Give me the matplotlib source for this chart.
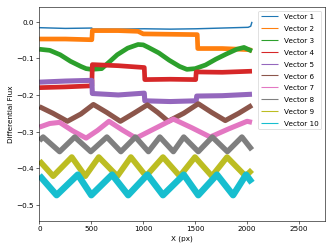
import numpy as np
import matplotlib
matplotlib.use('Agg')
import matplotlib.pyplot as plt

# values (centre of each noisy band)
x1 = [0, 250, 505, 510, 760, 1010, 1260, 1510, 1760, 2010, 2035, 2047]
v1 = [-0.016, -0.018, -0.017, -0.020, -0.020, -0.019, -0.020, -0.019, -0.017, -0.015, -0.012, 0.000]

x2 = [0, 250, 505, 510, 760, 950, 1000, 1260, 1520, 1525, 1760, 2010, 2047]
v2 = [-0.047, -0.047, -0.049, -0.024, -0.024, -0.026, -0.033, -0.034, -0.035, -0.073, -0.073,
      -0.076, -0.078]

x3 = [0, 100, 200, 300, 400, 450, 500, 600, 680, 750, 850, 950, 1000, 1050, 1150, 1250,
      1350, 1420, 1500, 1600, 1700, 1800, 1900, 1970, 2047]
v3 = [-0.075, -0.078, -0.090, -0.108, -0.122, -0.128, -0.130, -0.128, -0.108, -0.090, -0.072,
      -0.062, -0.063, -0.070, -0.085, -0.105, -0.122, -0.130, -0.128, -0.118, -0.102, -0.088,
      -0.075, -0.070, -0.080]

x4 = [0, 250, 505, 510, 760, 1010, 1015, 1260, 1505, 1510, 1760, 2047]
v4 = [-0.180, -0.178, -0.175, -0.117, -0.120, -0.125, -0.158, -0.157, -0.158, -0.137, -0.138, -0.135]

x5 = [0, 250, 505, 510, 760, 1010, 1015, 1260, 1510, 1515, 1760, 2047]
v5 = [-0.165, -0.162, -0.160, -0.196, -0.200, -0.195, -0.216, -0.218, -0.216, -0.203, -0.202, -0.198]

x6 = [0, 130, 270, 400, 520, 650, 780, 910, 1040, 1140, 1240, 1390, 1530, 1660, 1790, 1920, 2047]
v6 = [-0.232, -0.250, -0.272, -0.252, -0.226, -0.248, -0.272, -0.250, -0.227, -0.248, -0.272,
      -0.250, -0.224, -0.248, -0.270, -0.250, -0.228]

x7 = [0, 100, 195, 320, 450, 560, 670, 800, 930, 1110, 1290, 1470, 1645, 1820, 2000, 2047]
v7 = [-0.288, -0.278, -0.275, -0.298, -0.318, -0.297, -0.272, -0.296, -0.318, -0.292, -0.266,
      -0.290, -0.315, -0.293, -0.272, -0.275]

x8 = [0, 36, 195, 340, 495, 650, 785, 925, 1050, 1160, 1290, 1390, 1530, 1665, 1810, 1950, 2047]
v8 = [-0.325, -0.315, -0.355, -0.315, -0.355, -0.315, -0.355, -0.315, -0.355, -0.315, -0.355,
      -0.315, -0.355, -0.315, -0.355, -0.315, -0.350]

x9 = [0, 133, 312, 442, 572, 751, 881, 1027, 1190, 1352, 1498, 1661, 1807, 1986, 2047]
v9 = [-0.380, -0.422, -0.370, -0.422, -0.370, -0.422, -0.370, -0.422, -0.370, -0.422, -0.370,
      -0.422, -0.370, -0.422, -0.405]

x10 = [0, 166, 370, 500, 700, 855, 1040, 1190, 1390, 1530, 1710, 1865, 1990, 2047]
v10 = [-0.420, -0.474, -0.418, -0.474, -0.418, -0.474, -0.418, -0.474, -0.418, -0.474, -0.418,
       -0.474, -0.418, -0.440]

xs = [x1, x2, x3, x4, x5, x6, x7, x8, x9, x10]
vs = [v1, v2, v3, v4, v5, v6, v7, v8, v9, v10]
widths = [2.0, 6.5, 6.5, 6.5, 7, 7, 7, 7.5, 8, 9]

fig, ax = plt.subplots(figsize=(6.4, 4.8), dpi=52)
for i in range(10):
    ax.plot(xs[i], vs[i], lw=widths[i], solid_joinstyle='round',
            solid_capstyle='butt', label='Vector %d' % (i + 1))

ax.set_xlim(0, 2750)
ax.set_ylim(-0.544, 0.040)
ax.set_xlabel('X (px)')
ax.set_ylabel('Differential Flux')
leg = ax.legend(loc='upper right', labelspacing=0.8, handlelength=2.3)
for h in leg.get_lines():
    h.set_linewidth(1.5)

plt.tight_layout()
plt.savefig('out.png', dpi=52)
